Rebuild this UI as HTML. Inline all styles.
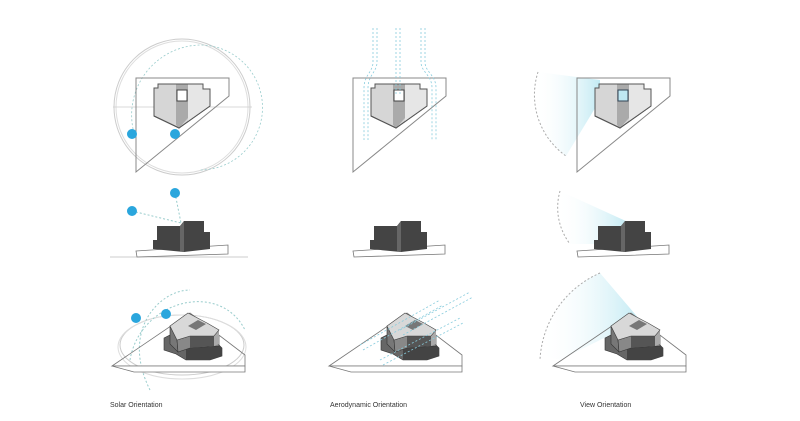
<!DOCTYPE html>
<html><head><meta charset="utf-8"><style>
body{margin:0;background:#fff;}
svg{display:block}
text{font-family:"Liberation Sans",sans-serif;font-size:7px;fill:#333}
</style></head><body>
<svg width="800" height="421" viewBox="0 0 800 421" xmlns="http://www.w3.org/2000/svg">
<defs>
<linearGradient id="vg" x1="0" x2="1" y1="0" y2="0"><stop offset="0" stop-color="#fff" stop-opacity="0"/><stop offset="1" stop-color="#7fd3e6" stop-opacity="0.8"/></linearGradient>
<g id="plan">
<polygon points="136,78 229,78 229,96 136,172" fill="none" stroke="#888" stroke-width="1"/>
<polygon points="154,88 158,88 158,84 203,84 203,89 210,89 210,106 179,128 154,116" fill="#d6d6d6" stroke="#555" stroke-width="1"/>
<polygon points="176,84 188,84 188,118 179,128 176,125" fill="#aaa"/>
<polygon points="188,84 203,84 203,89 210,89 210,106 188,121" fill="#e6e6e6"/>
<polygon points="154,88 158,88 158,84 203,84 203,89 210,89 210,106 179,128 154,116" fill="none" stroke="#555" stroke-width="1"/>
</g>
<g id="elev">
<polygon points="136,251 228,245 228,254 137,257" fill="#fff" stroke="#777" stroke-width="0.8"/>
<polygon points="153,249 153,240 157,240 157,226 180,226 184,221 204,221 204,232 210,232 210,249 184,252" fill="#444"/>
<polygon points="180,226 184,221 184,252 180,251" fill="#666"/>
</g>
<g id="iso">
<polygon points="112,366 190,313 245,355 245,366" fill="none" stroke="#777" stroke-width="0.8"/>
<polygon points="112,366 245,366 245,372 134,372" fill="#fff" stroke="#777" stroke-width="0.8"/>
<polygon points="164,338 172,334 218,344 222,348 222,356 210,360 186,360 176,354 164,350" fill="#666" stroke="#333" stroke-width="0.6"/>
<polygon points="186,348 218,344 222,348 222,356 210,360 186,360" fill="#444"/>
<polygon points="170,326 177,340 178,352 170,344" fill="#777" stroke="#333" stroke-width="0.6"/>
<polygon points="177,340 190,336 219,336 219,346 190,348 178,352" fill="#888" stroke="#333" stroke-width="0.6"/>
<polygon points="190,336 214,336 214,346 190,348" fill="#555"/>
<polygon points="214,336 219,330 219,344 214,346" fill="#aaa"/>
<polygon points="170,326 188,313 207,323 219,330 214,336 190,336 177,340" fill="#d8d8d8" stroke="#444" stroke-width="0.6"/>
<polygon points="188,326 198,320 206,324 196,330" fill="#777"/>
</g>
</defs>

<!-- Column 1: Solar -->
<circle cx="182" cy="107" r="68" fill="none" stroke="#ccc" stroke-width="1"/>
<circle cx="182" cy="107" r="66" fill="none" stroke="#ddd" stroke-width="1"/>
<path d="M134,133 A70 70 0 0 1 200,45 A62 62 0 0 1 200,170" fill="none" stroke="#9cc" stroke-width="0.8" stroke-dasharray="2,2"/>
<line x1="113" y1="107" x2="252" y2="107" stroke="#ccc" stroke-width="0.8"/>
<use href="#plan"/>
<rect x="177" y="90" width="10" height="11" fill="#fff" stroke="#444" stroke-width="1"/>
<circle cx="132" cy="134" r="5" fill="#2aa6dd"/>
<circle cx="175" cy="134" r="5" fill="#2aa6dd"/>

<line x1="110" y1="257" x2="248" y2="257" stroke="#bbb" stroke-width="0.8"/>
<use href="#elev"/>
<line x1="132" y1="211" x2="181" y2="223" stroke="#9cc" stroke-dasharray="2,2"/>
<line x1="175" y1="193" x2="181" y2="223" stroke="#9cc" stroke-dasharray="2,2"/>
<circle cx="132" cy="211" r="5" fill="#2aa6dd"/>
<circle cx="175" cy="193" r="5" fill="#2aa6dd"/>

<ellipse cx="182" cy="345" rx="62" ry="30" fill="none" stroke="#ccc" stroke-width="1"/>
<ellipse cx="182" cy="347" rx="64" ry="32" fill="none" stroke="#ddd" stroke-width="1"/>
<path d="M130,360 C140,300 220,280 245,330" fill="none" stroke="#9cc" stroke-dasharray="2,2"/>
<path d="M150,390 C120,330 160,290 190,290" fill="none" stroke="#9cc" stroke-dasharray="2,2"/>
<use href="#iso"/>
<circle cx="136" cy="318" r="5" fill="#2aa6dd"/>
<circle cx="166" cy="314" r="5" fill="#2aa6dd"/>
<text x="110" y="407">Solar Orientation</text>

<!-- Column 2: Aerodynamic -->
<g transform="translate(217,0)"><use href="#plan"/></g>
<rect x="394" y="90" width="10" height="11" fill="#fff" stroke="#444" stroke-width="1"/>
<g fill="none" stroke="#8cd" stroke-width="0.8" stroke-dasharray="2,2">
<path d="M373,28 L373,62 C373,72 364,75 364,88 L364,140"/><path d="M377,28 L377,62 C377,72 368,75 368,88 L368,140"/>
<path d="M396,28 L396,95"/><path d="M400,28 L400,95"/>
<path d="M421,28 L421,62 C421,72 432,75 432,88 L432,140"/><path d="M425,28 L425,62 C425,72 436,75 436,88 L436,140"/>
</g>
<g transform="translate(217,0)"><use href="#elev"/></g>
<g transform="translate(217,0)"><use href="#iso"/></g>
<g fill="none" stroke="#8cd" stroke-width="0.8" stroke-dasharray="2,2">
<path d="M360,345 L440,300"/><path d="M363,350 L443,305"/>
<path d="M380,360 L460,318"/><path d="M383,365 L463,323"/>
<path d="M400,330 L470,292"/><path d="M403,335 L473,297"/>
</g>
<text x="330" y="407">Aerodynamic Orientation</text>

<!-- Column 3: View -->
<path d="M538,72 L600,80 L600,100 L566,156 A75 75 0 0 1 538,72 Z" fill="url(#vg)" opacity="0.6"/>
<path d="M538,72 A75 75 0 0 0 566,156" fill="none" stroke="#aaa" stroke-dasharray="2,2"/>
<g transform="translate(441,0)"><use href="#plan"/></g>
<rect x="618" y="90" width="10" height="11" fill="#bfe8f3" stroke="#345" stroke-width="1"/>
<path d="M560,191 L628,222 L620,244 L570,244 A60 60 0 0 1 560,191 Z" fill="url(#vg)" opacity="0.6"/>
<path d="M560,191 A60 60 0 0 0 570,244" fill="none" stroke="#aaa" stroke-dasharray="2,2"/>
<g transform="translate(441,0)"><use href="#elev"/></g>
<path d="M600,273 L640,320 L560,360 L540,355 A100 100 0 0 1 600,273 Z" fill="url(#vg)" opacity="0.6"/>
<path d="M600,273 A100 100 0 0 0 540,360" fill="none" stroke="#aaa" stroke-dasharray="2,2"/>
<g transform="translate(441,0)"><use href="#iso"/></g>
<text x="580" y="407">View Orientation</text>
</svg>
</body></html>
